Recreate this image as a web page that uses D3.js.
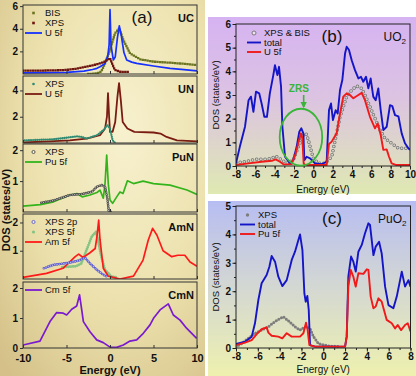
<!DOCTYPE html>
<html>
<head>
<meta charset="utf-8">
<script src="https://cdn.jsdelivr.net/npm/d3@7"></script>
<style>
  body { margin: 0; background: #fff; }
  svg { display: block; font-family: "Liberation Sans", Arial, sans-serif; }
</style>
</head>
<body>
<svg id="chart" width="416" height="376"></svg>
<script>
// ---- data: [energy (eV), DOS (states/eV)] ----
const ucBIS = [[-2.5,0],[-1.5,0.05],[-1,0.22],[-0.57,0.95],[0,2.1],[0.57,3.6],[1.07,4.04],[1.53,3.0],[2.3,1.83],[3.45,1.3],[5,1.09],[6.9,1.0],[8.5,0.9],[10,0.8]];
const ucXPS = [[-10,0.3],[-8,0.3],[-6,0.33],[-5,0.36],[-4,0.45],[-2.7,0.65],[-1.8,0.8],[-1.15,0.95],[-0.57,1.1],[0,1.4],[0.3,0.8],[0.57,0.35],[1.15,0.2],[2.3,0.18]];
const ucU5f = [[-10,0.1],[-7,0.12],[-5,0.15],[-3,0.25],[-2,0.4],[-1.5,0.5],[-1.15,0.65],[-0.6,0.9],[-0.25,1.6],[-0.1,2.6],[0,5.7],[0.12,2.5],[0.38,1.24],[0.6,1.5],[0.85,3.2],[1.07,4.25],[1.3,3.4],[1.6,1.9],[1.92,1.24],[2.5,1.05],[3.07,0.94],[5,0.71],[6.9,0.5],[8.5,0.38],[10,0.28]];

const unXPS = [[-9.8,0.2],[-6.5,0.28],[-5,0.4],[-3.8,0.5],[-3.2,0.45],[-2.7,0.33],[-1.5,0.59],[-0.77,0.97],[-0.3,1.36],[0,1.1],[0.3,0.2],[0.6,0]];
const unU5f = [[-10,0.05],[-7,0.12],[-4.6,0.2],[-2.7,0.33],[-1.15,0.59],[-0.57,1.1],[-0.35,2.0],[-0.23,3.8],[-0.1,2.0],[0,0.85],[0.3,0.85],[0.6,1.6],[0.85,3.5],[1.04,4.56],[1.25,3.2],[1.46,1.6],[2,1.1],[2.8,0.85],[5,0.8],[5.8,0.72],[6.5,0.46],[7.7,0.2],[10,0.13]];

const punXPS = [[-7.9,0.3],[-6.5,0.37],[-4.6,0.55],[-3.2,0.58],[-2.1,0.65],[-1.5,0.82],[-0.96,0.87],[-0.57,0.82],[-0.3,0.44],[-0.15,0.05],[0.1,0]];
const punPu5f = [[-10,0.19],[-8,0.24],[-6.5,0.33],[-4.6,0.55],[-3.8,0.6],[-3.2,0.49],[-2.3,0.55],[-1.5,0.63],[-1.15,0.71],[-0.77,0.45],[-0.57,0.92],[-0.38,1.84],[-0.2,0.92],[0,0.39],[0.3,0.28],[0.77,0.49],[1.15,0.65],[1.5,0.6],[2,1.01],[2.7,0.92],[3.8,1.0],[5,0.92],[6.9,0.87],[8.85,0.71],[10,0.57]];

const amnXPS2p = [[-7.6,0.38],[-6.5,0.5],[-4.6,0.58],[-3.6,0.65],[-2.9,0.76],[-2.3,0.55],[-1.5,0.32],[-0.77,0.15],[-0.2,0.06]];
const amnXPS5f = [[-5.5,0.42],[-3.9,0.45],[-3.3,0.55],[-2.7,1.02],[-2.1,1.5],[-1.6,1.67],[-1.4,1.4],[-1,0.79],[-0.57,0.32],[0.2,0.08],[0.77,0.06]];
const amnAm5f = [[-10,0.06],[-7.3,0.2],[-5.4,0.38],[-4,0.79],[-3.6,0.88],[-3.1,0.76],[-2.3,0.93],[-1.7,1.08],[-1.5,1.5],[-1.3,2.08],[-1.15,1.4],[-0.77,0.38],[-0.2,0.1],[1.15,0.0],[2.7,0.1],[3.8,0.67],[4.4,1.38],[4.9,1.79],[5.4,1.55],[6.1,1.0],[7.1,0.79],[7.8,0.84],[8.6,0.84],[9.2,0.6],[10,0.45]];

const cmnCm5f = [[-10,0.1],[-8.05,0.23],[-6.9,0.88],[-6.13,1.18],[-5.37,1.16],[-4.98,1.1],[-4.4,1.29],[-3.83,1.4],[-3.5,1.77],[-3.25,1.27],[-3.06,0.88],[-2.3,0.54],[-1.53,0.27],[-0.77,0.18],[0,0.03],[0.77,0.02],[1.53,0.1],[2.3,0.23],[3.07,0.27],[3.83,0.49],[4.6,0.77],[5,0.99],[5.75,1.27],[6.5,1.43],[6.7,1.47],[7.28,1.1],[8.05,0.93],[8.8,0.66],[9.96,0.32]];

const uo2Total = [[-8,0.11],[-7.6,0.82],[-7.07,1.66],[-6.7,2.78],[-6.45,2.93],[-6.2,2.29],[-5.93,3.14],[-5.6,3.07],[-5.35,2.64],[-5.07,2.08],[-4.8,2.08],[-4.5,3.07],[-4.14,3.84],[-3.97,4.26],[-3.72,3.84],[-3.55,4.19],[-3.34,3.35],[-3.2,1.66],[-2.93,0.39],[-2.41,0.11],[-2.07,0.25],[-1.72,0.82],[-1.45,1.45],[-1.24,1.59],[-1.03,1.38],[-0.93,0.25],[-0.69,0.39],[-0.34,0.32],[0.17,0.11],[0.86,0.08],[1.38,0.18],[1.62,2.36],[1.83,2.64],[2.03,1.94],[2.31,2.36],[2.52,2.22],[2.76,3.21],[3,3.63],[3.28,4.75],[3.45,5.04],[3.69,4.9],[3.97,4.47],[4.31,4.05],[4.66,3.7],[4.93,3.77],[5.17,3.56],[5.45,3.77],[5.69,3.28],[5.93,3.7],[6.2,2.93],[6.45,2.78],[6.72,3.28],[6.97,2.36],[7.24,1.52],[7.59,1.66],[7.93,2.57],[8.17,2.53],[8.45,2.15],[8.8,2.1],[9.14,1.38],[9.48,0.96],[9.83,0.75],[10,0.68]];
const uo2U5f = [[-8,0.04],[-6.7,0.11],[-5.35,0.18],[-4.3,0.22],[-3.9,0.28],[-3.45,0.18],[-3.1,0.07],[-2.24,0.08],[-1.83,0.53],[-1.48,1.1],[-1.28,1.38],[-1.14,1.17],[-1,0.11],[-0.86,0.04],[1.38,0.04],[1.62,0.93],[1.9,1.03],[2.41,1.38],[2.76,2.22],[3.1,2.93],[3.45,3.07],[3.79,3.0],[4.14,2.86],[4.66,3.0],[5,3.09],[5.34,2.78],[5.86,2.08],[6.38,1.59],[6.66,1.8],[6.97,1.31],[7.24,0.68],[7.59,0.7],[7.83,0.39],[8.1,0.11],[8.6,0.04],[10,0.04]];
const uo2XPSBIS = [[-8,0.14],[-7.07,0.18],[-6,0.28],[-5,0.28],[-4.3,0.32],[-3.9,0.42],[-3.34,0.28],[-2.76,0.11],[-2.07,0.25],[-1.55,0.82],[-1.03,1.31],[-0.76,1.38],[-0.52,1.1],[-0.24,0.68],[0,0.32],[0.52,0.11],[1.2,0.11],[1.9,0.39],[2.41,1.38],[2.76,2.08],[3.1,2.5],[3.45,2.93],[3.97,3.21],[4.48,3.38],[5,3.28],[5.34,3.0],[5.86,2.5],[6.38,2.01],[6.9,1.52],[7.41,1.17],[8.1,0.96],[8.8,0.75],[9.48,0.75],[10,0.75]];

const puo2Total = [[-8,0.14],[-7.17,0.22],[-6.56,0.4],[-6.26,0.87],[-5.95,1.69],[-5.65,2.28],[-5.19,2.57],[-4.94,2.86],[-4.73,3.24],[-4.42,3.04],[-4.12,2.51],[-3.75,2.18],[-3.35,2.39],[-2.89,3.1],[-2.59,3.39],[-2.28,3.8],[-2.13,4.0],[-1.91,3.45],[-1.73,1.92],[-1.61,1.63],[-1.46,1.83],[-1.33,1.34],[-1.21,0.1],[-0.75,0.05],[2,0.05],[2.15,0.4],[2.3,2.51],[2.55,3.22],[2.76,3.04],[2.98,2.69],[3.22,3.39],[3.53,3.63],[3.83,4.04],[4.14,4.39],[4.29,4.33],[4.6,3.27],[4.81,3.57],[5.12,3.74],[5.36,3.33],[5.67,2.16],[5.98,1.51],[6.43,1.4],[6.74,1.81],[7.2,2.69],[7.5,2.16],[7.81,2.39],[8,2.16]];
const puo2Pu5f = [[-8,0.1],[-7.17,0.19],[-6.56,0.28],[-6.1,0.49],[-5.65,0.66],[-5.19,0.73],[-5.03,0.54],[-4.73,0.43],[-4.12,0.4],[-3.75,0.34],[-3.35,0.52],[-2.89,0.4],[-2.13,0.4],[-1.82,0.52],[-1.58,0.89],[-1.43,0.63],[-1.27,0.1],[-0.75,0.05],[2,0.05],[2.15,0.4],[2.3,2.16],[2.52,2.75],[2.76,2.51],[2.98,2.16],[3.22,2.63],[3.68,2.61],[3.99,2.77],[4.14,2.75],[4.35,1.81],[4.6,1.4],[4.81,1.46],[5.06,1.75],[5.36,1.63],[5.82,0.99],[6.28,0.87],[6.59,0.69],[6.83,0.81],[7.14,0.63],[7.5,0.81],[7.75,0.87],[8,0.58]];
const puo2XPS = [[-8,0.05],[-7.48,0.16],[-6.87,0.34],[-6.26,0.52],[-5.65,0.63],[-5.03,0.75],[-4.42,0.93],[-3.96,1.04],[-3.66,1.1],[-3.2,0.96],[-2.59,0.75],[-2.13,0.63],[-1.67,0.75],[-1.21,0.69],[-0.9,0.4],[-0.45,0.16],[0.47,0.07],[1.39,0.05]];

// ---- ticks ----
const aXTicks = [-10, -5, 0, 5, 10];
const bXTicks = [-8, -6, -4, -2, 0, 2, 4, 6, 8, 10];
const bYTicks = [0, 1, 2, 3, 4, 5, 6];
const cXTicks = [-8, -6, -4, -2, 0, 2, 4, 6, 8];
const cYTicks = [0, 1, 2, 3, 4, 5];

// ---- layout / styles ----
const aPanels = [
  {name: "UC", top: 5, bottom: 74, max: 6.1, yTicks: [2, 4, 6],
   draw: [
     {key: "BIS", data: ucBIS, kind: "dot", color: "#6b7421", shape: "square", size: 2.3, gap: 2.5},
     {key: "U 5f", data: ucU5f, kind: "line", color: "#1530ff"},
     {key: "XPS", data: ucXPS, kind: "dot", color: "#6e1510", shape: "square", size: 2.3, gap: 2.5}],
   legend: ["BIS", "XPS", "U 5f"]},
  {name: "UN", top: 76, bottom: 143, max: 5.1, yTicks: [2, 4],
   draw: [
     {key: "U 5f", data: unU5f, kind: "line", color: "#7a1c12", width: 1.8},
     {key: "XPS", data: unXPS, kind: "dot", color: "#2e8a72", size: 2.3, gap: 2.1}],
   legend: ["XPS", "U 5f"]},
  {name: "PuN", top: 144, bottom: 212, max: 2.2, yTicks: [1, 2],
   draw: [
     {key: "Pu 5f", data: punPu5f, kind: "line", color: "#34b41c"},
     {key: "XPS", data: punXPS, kind: "dot", color: "#4a4a4a", open: true, size: 2.7, gap: 2.3}],
   legend: ["XPS", "Pu 5f"]},
  {name: "AmN", top: 214, bottom: 279, max: 2.3, yTicks: [1, 2],
   draw: [
     {key: "XPS 5f", data: amnXPS5f, kind: "dot", color: "#84c484", size: 2.8, gap: 2.2},
     {key: "Am 5f", data: amnAm5f, kind: "line", color: "#ff1a1a"},
     {key: "XPS 2p", data: amnXPS2p, kind: "dot", color: "#5a5ad2", open: true, size: 2.7, gap: 2.3}],
   legend: ["XPS 2p", "XPS 5f", "Am 5f"]},
  {name: "CmN", top: 282, bottom: 348, max: 2.2, yTicks: [0, 1, 2],
   draw: [
     {key: "Cm 5f", data: cmnCm5f, kind: "line", color: "#7a1ad0"}],
   legend: ["Cm 5f"]}
];

const svg = d3.select("#chart");
const defs = svg.append("defs");

function linGrad(id, stops) {
  const g = defs.append("linearGradient").attr("id", id)
    .attr("x1", 0).attr("y1", 0).attr("x2", 0).attr("y2", 1);
  stops.forEach(([o, c]) => g.append("stop").attr("offset", o).attr("stop-color", c));
}
const rg = defs.append("radialGradient").attr("id", "bgA")
  .attr("cx", "0.6").attr("cy", "0.35").attr("r", "0.85");
rg.append("stop").attr("offset", 0).attr("stop-color", "#f7f1cf");
rg.append("stop").attr("offset", 0.55).attr("stop-color", "#ece1ad");
rg.append("stop").attr("offset", 1).attr("stop-color", "#d4c088");
linGrad("bgB", [[0, "#d6b3f2"], [0.45, "#dcc3e2"], [1, "#dfe9b2"]]);
linGrad("bgC", [[0, "#b7bdf2"], [0.5, "#d4d8d2"], [1, "#eef1ae"]]);

defs.append("marker").attr("id", "arrowG").attr("viewBox", "0 0 10 10")
  .attr("refX", 8).attr("refY", 5).attr("markerWidth", 4).attr("markerHeight", 4)
  .attr("orient", "auto")
  .append("path").attr("d", "M0,0L10,5L0,10z").attr("fill", "#3ab53a");

svg.append("rect").attr("width", 416).attr("height", 376).attr("fill", "#fff");
svg.append("rect").attr("x", 0).attr("y", 0).attr("width", 205).attr("height", 376).attr("fill", "url(#bgA)");
svg.append("rect").attr("x", 208).attr("y", 17).attr("width", 208).attr("height", 177).attr("fill", "url(#bgB)");
svg.append("rect").attr("x", 208).attr("y", 201).attr("width", 208).attr("height", 175).attr("fill", "url(#bgC)");

// draws one series: a solid line, or dots laid along the path with a dash pattern
function drawSeries(g, s, x, y) {
  const line = d3.line().x(d => x(d[0])).y(d => y(d[1]));
  if (s.kind === "line") {
    g.append("path").attr("d", line(s.data))
      .attr("fill", "none").attr("stroke", s.color)
      .attr("stroke-width", s.width || 1.7).attr("stroke-linejoin", "round");
    return;
  }
  g.append("path").attr("d", line(s.data))
    .attr("fill", "none").attr("stroke", s.color)
    .attr("stroke-width", s.size)
    .attr("stroke-linecap", s.shape === "square" ? "square" : "round")
    .attr("stroke-dasharray", `0 ${s.gap}`)
    .attr("opacity", s.opacity || 1);
  if (s.open) {
    g.append("path").attr("d", line(s.data))
      .attr("fill", "none").attr("stroke", "rgba(255,255,245,0.7)")
      .attr("stroke-width", s.size - 1.5)
      .attr("stroke-linecap", "round")
      .attr("stroke-dasharray", `0 ${s.gap}`);
  }
}

function legendItem(g, s, x0, yy, textX, fs) {
  if (s.kind === "line") {
    g.append("line").attr("x1", x0).attr("x2", textX - 3).attr("y1", yy).attr("y2", yy)
      .attr("stroke", s.color).attr("stroke-width", s.width || 1.8);
  } else {
    const cx = (x0 + textX - 3) / 2;
    if (s.shape === "square") {
      g.append("rect").attr("x", cx - 1.3).attr("y", yy - 1.3).attr("width", 2.6).attr("height", 2.6).attr("fill", s.color);
    } else {
      g.append("circle").attr("cx", cx).attr("cy", yy).attr("r", s.size / 2 + 0.2)
        .attr("fill", s.open ? "rgba(255,255,245,0.6)" : s.color)
        .attr("stroke", s.color).attr("stroke-width", s.open ? 0.9 : 0);
    }
  }
  g.append("text").attr("x", textX).attr("y", yy).attr("dy", "0.35em")
    .attr("font-size", fs).attr("fill", "#111").text(s.key);
}

// ---------------- panel (a) ----------------
const xA = d3.scaleLinear().domain([-10, 10]).range([23, 197]);

aPanels.forEach((p, i) => {
  const last = i === aPanels.length - 1;
  const y = d3.scaleLinear().domain([0, p.max]).range([p.bottom, p.top]);
  const g = svg.append("g");
  const clipId = "clipA" + i;
  defs.append("clipPath").attr("id", clipId).append("rect")
    .attr("x", 23).attr("y", p.top).attr("width", 174).attr("height", p.bottom - p.top);

  const plot = g.append("g").attr("clip-path", `url(#${clipId})`);
  p.draw.forEach(s => drawSeries(plot, s, xA, y));

  g.append("rect").attr("x", 23).attr("y", p.top).attr("width", 174).attr("height", p.bottom - p.top)
    .attr("fill", "none").attr("stroke", "#333").attr("stroke-width", 1);

  const xAxis = g.append("g").attr("transform", `translate(0,${p.bottom})`)
    .call(d3.axisBottom(xA).tickValues(aXTicks).tickSize(-3).tickPadding(6)
      .tickFormat(last ? d => String(d) : ""));
  xAxis.select(".domain").remove();
  xAxis.selectAll("line").attr("stroke", "#333");
  xAxis.selectAll("text").attr("font-size", 11).attr("font-weight", "bold")
    .attr("font-family", "Liberation Sans, Arial, sans-serif").attr("fill", "#111");

  const yAxis = g.append("g").attr("transform", "translate(23,0)")
    .call(d3.axisLeft(y).tickValues(p.yTicks).tickSize(3).tickPadding(2).tickFormat(d => String(d)));
  yAxis.select(".domain").remove();
  yAxis.selectAll("line").attr("stroke", "#333");
  yAxis.selectAll("text").attr("font-size", 10).attr("font-weight", "bold")
    .attr("font-family", "Liberation Sans, Arial, sans-serif").attr("fill", "#111");

  p.legend.forEach((key, k) => {
    const s = p.draw.find(d => d.key === key);
    legendItem(g, s, 25, p.top + 8 + k * 10, 45, 9.5);
  });

  g.append("text").attr("x", 194).attr("y", p.top + 17).attr("text-anchor", "end")
    .attr("font-size", 11).attr("font-weight", "bold").attr("fill", "#111").text(p.name);
});

svg.append("text").attr("x", 142).attr("y", 23).attr("text-anchor", "middle")
  .attr("font-size", 17).attr("fill", "#111").text("(a)");
svg.append("text").attr("x", 110).attr("y", 374).attr("text-anchor", "middle")
  .attr("font-size", 11).attr("font-weight", "bold").attr("fill", "#111").text("Energy (eV)");
svg.append("text").attr("transform", "translate(10,210) rotate(-90)").attr("text-anchor", "middle")
  .attr("font-size", 11).attr("font-weight", "bold").attr("fill", "#111").text("DOS (states/eV)");

// ---------------- panels (b) and (c) ----------------
function rightPanel(cfg) {
  const x = d3.scaleLinear().domain(cfg.xDom).range([cfg.left, cfg.right]);
  const y = d3.scaleLinear().domain(cfg.yDom).range([cfg.bottom, cfg.top]);
  const g = svg.append("g");
  defs.append("clipPath").attr("id", cfg.id).append("rect")
    .attr("x", cfg.left).attr("y", cfg.top).attr("width", cfg.right - cfg.left).attr("height", cfg.bottom - cfg.top);
  const plot = g.append("g").attr("clip-path", `url(#${cfg.id})`);
  cfg.draw.forEach(s => drawSeries(plot, s, x, y));

  g.append("rect").attr("x", cfg.left).attr("y", cfg.top)
    .attr("width", cfg.right - cfg.left).attr("height", cfg.bottom - cfg.top)
    .attr("fill", "none").attr("stroke", "#222").attr("stroke-width", 1);

  const xMinor = d3.range(cfg.xDom[0], cfg.xDom[1] + 0.01, 1);
  const yMinor = d3.range(cfg.yDom[0], cfg.yDom[1] + 0.01, 0.5);
  g.append("g").attr("transform", `translate(0,${cfg.bottom})`)
    .call(d3.axisBottom(x).tickValues(xMinor).tickSize(2).tickFormat(""))
    .call(a => a.select(".domain").remove());
  g.append("g").attr("transform", `translate(${cfg.left},0)`)
    .call(d3.axisLeft(y).tickValues(yMinor).tickSize(2).tickFormat(""))
    .call(a => a.select(".domain").remove());

  const xAxis = g.append("g").attr("transform", `translate(0,${cfg.bottom})`)
    .call(d3.axisBottom(x).tickValues(cfg.xTicks).tickSize(3.5).tickPadding(1.5).tickFormat(d => String(d)));
  const yAxis = g.append("g").attr("transform", `translate(${cfg.left},0)`)
    .call(d3.axisLeft(y).tickValues(cfg.yTicks).tickSize(3.5).tickPadding(1.5).tickFormat(d => String(d)));
  [xAxis, yAxis].forEach(a => {
    a.select(".domain").remove();
    a.selectAll("text").attr("font-size", 10).attr("font-weight", "bold")
      .attr("font-family", "Liberation Sans, Arial, sans-serif").attr("fill", "#111");
  });
  g.selectAll(".tick line").attr("stroke", "#222");

  cfg.legend.forEach((key, k) => {
    const s = cfg.draw.find(d => d.key === key);
    legendItem(g, s, cfg.legX, cfg.top + 9 + k * 9.5, cfg.legTextX, 9.5);
  });

  g.append("text").attr("x", cfg.left + 96).attr("y", cfg.top + 18).attr("text-anchor", "middle")
    .attr("font-size", 17).attr("fill", "#111").text(cfg.tag);
  const t = g.append("text").attr("x", cfg.right - 4).attr("y", cfg.top + 17).attr("text-anchor", "end")
    .attr("font-size", 12).attr("fill", "#111");
  t.append("tspan").text(cfg.mat);
  t.append("tspan").attr("font-size", 8).attr("dy", 3).text("2");

  g.append("text").attr("x", (cfg.left + cfg.right) / 2).attr("y", cfg.labelY).attr("text-anchor", "middle")
    .attr("font-size", 10).attr("fill", "#111").text("Energy (eV)");
  g.append("text").attr("transform", `translate(${cfg.left - 17},${(cfg.top + cfg.bottom) / 2}) rotate(-90)`)
    .attr("text-anchor", "middle").attr("font-size", 9.5).attr("fill", "#111").text("DOS (states/eV)");
  return {x, y, g};
}

const bPanel = rightPanel({
  id: "clipB", left: 236, right: 410, top: 24, bottom: 166,
  xDom: [-8, 10], yDom: [0, 6], xTicks: bXTicks, yTicks: bYTicks,
  draw: [
    {key: "XPS & BIS", data: uo2XPSBIS, kind: "dot", color: "#707070", open: true, size: 3.6, gap: 4.2},
    {key: "total", data: uo2Total, kind: "line", color: "#1515c8", width: 1.9},
    {key: "U 5f", data: uo2U5f, kind: "line", color: "#f01a1a", width: 1.9}],
  legend: ["XPS & BIS", "total", "U 5f"], legX: 247, legTextX: 264,
  tag: "(b)", mat: "UO", labelY: 193
});

// ZRS annotation
const zrs = bPanel.g.append("g");
zrs.append("ellipse")
  .attr("cx", bPanel.x(-1.28)).attr("cy", bPanel.y(1.22))
  .attr("rx", bPanel.x(-1.28 + 2.2) - bPanel.x(-1.28))
  .attr("ry", bPanel.y(0) - bPanel.y(1.2))
  .attr("fill", "none").attr("stroke", "#3ab53a").attr("stroke-width", 1.8);
zrs.append("line").attr("x1", bPanel.x(-1.0)).attr("x2", bPanel.x(-1.0))
  .attr("y1", 95).attr("y2", 107)
  .attr("stroke", "#3ab53a").attr("stroke-width", 1.6).attr("marker-end", "url(#arrowG)");
zrs.append("text").attr("x", bPanel.x(-1.5)).attr("y", 92).attr("text-anchor", "middle")
  .attr("font-size", 10).attr("font-weight", "bold").attr("fill", "#3ab53a").text("ZRS");

rightPanel({
  id: "clipC", left: 236, right: 410.5, top: 206, bottom: 348,
  xDom: [-8, 8], yDom: [0, 5], xTicks: cXTicks, yTicks: cYTicks,
  draw: [
    {key: "XPS", data: puo2XPS, kind: "dot", color: "#7d7d7d", size: 3, gap: 3},
    {key: "total", data: puo2Total, kind: "line", color: "#1515c8", width: 1.9},
    {key: "Pu 5f", data: puo2Pu5f, kind: "line", color: "#f01a1a", width: 1.9}],
  legend: ["XPS", "total", "Pu 5f"], legX: 240, legTextX: 258,
  tag: "(c)", mat: "PuO", labelY: 373
});
</script>
</body>
</html>
